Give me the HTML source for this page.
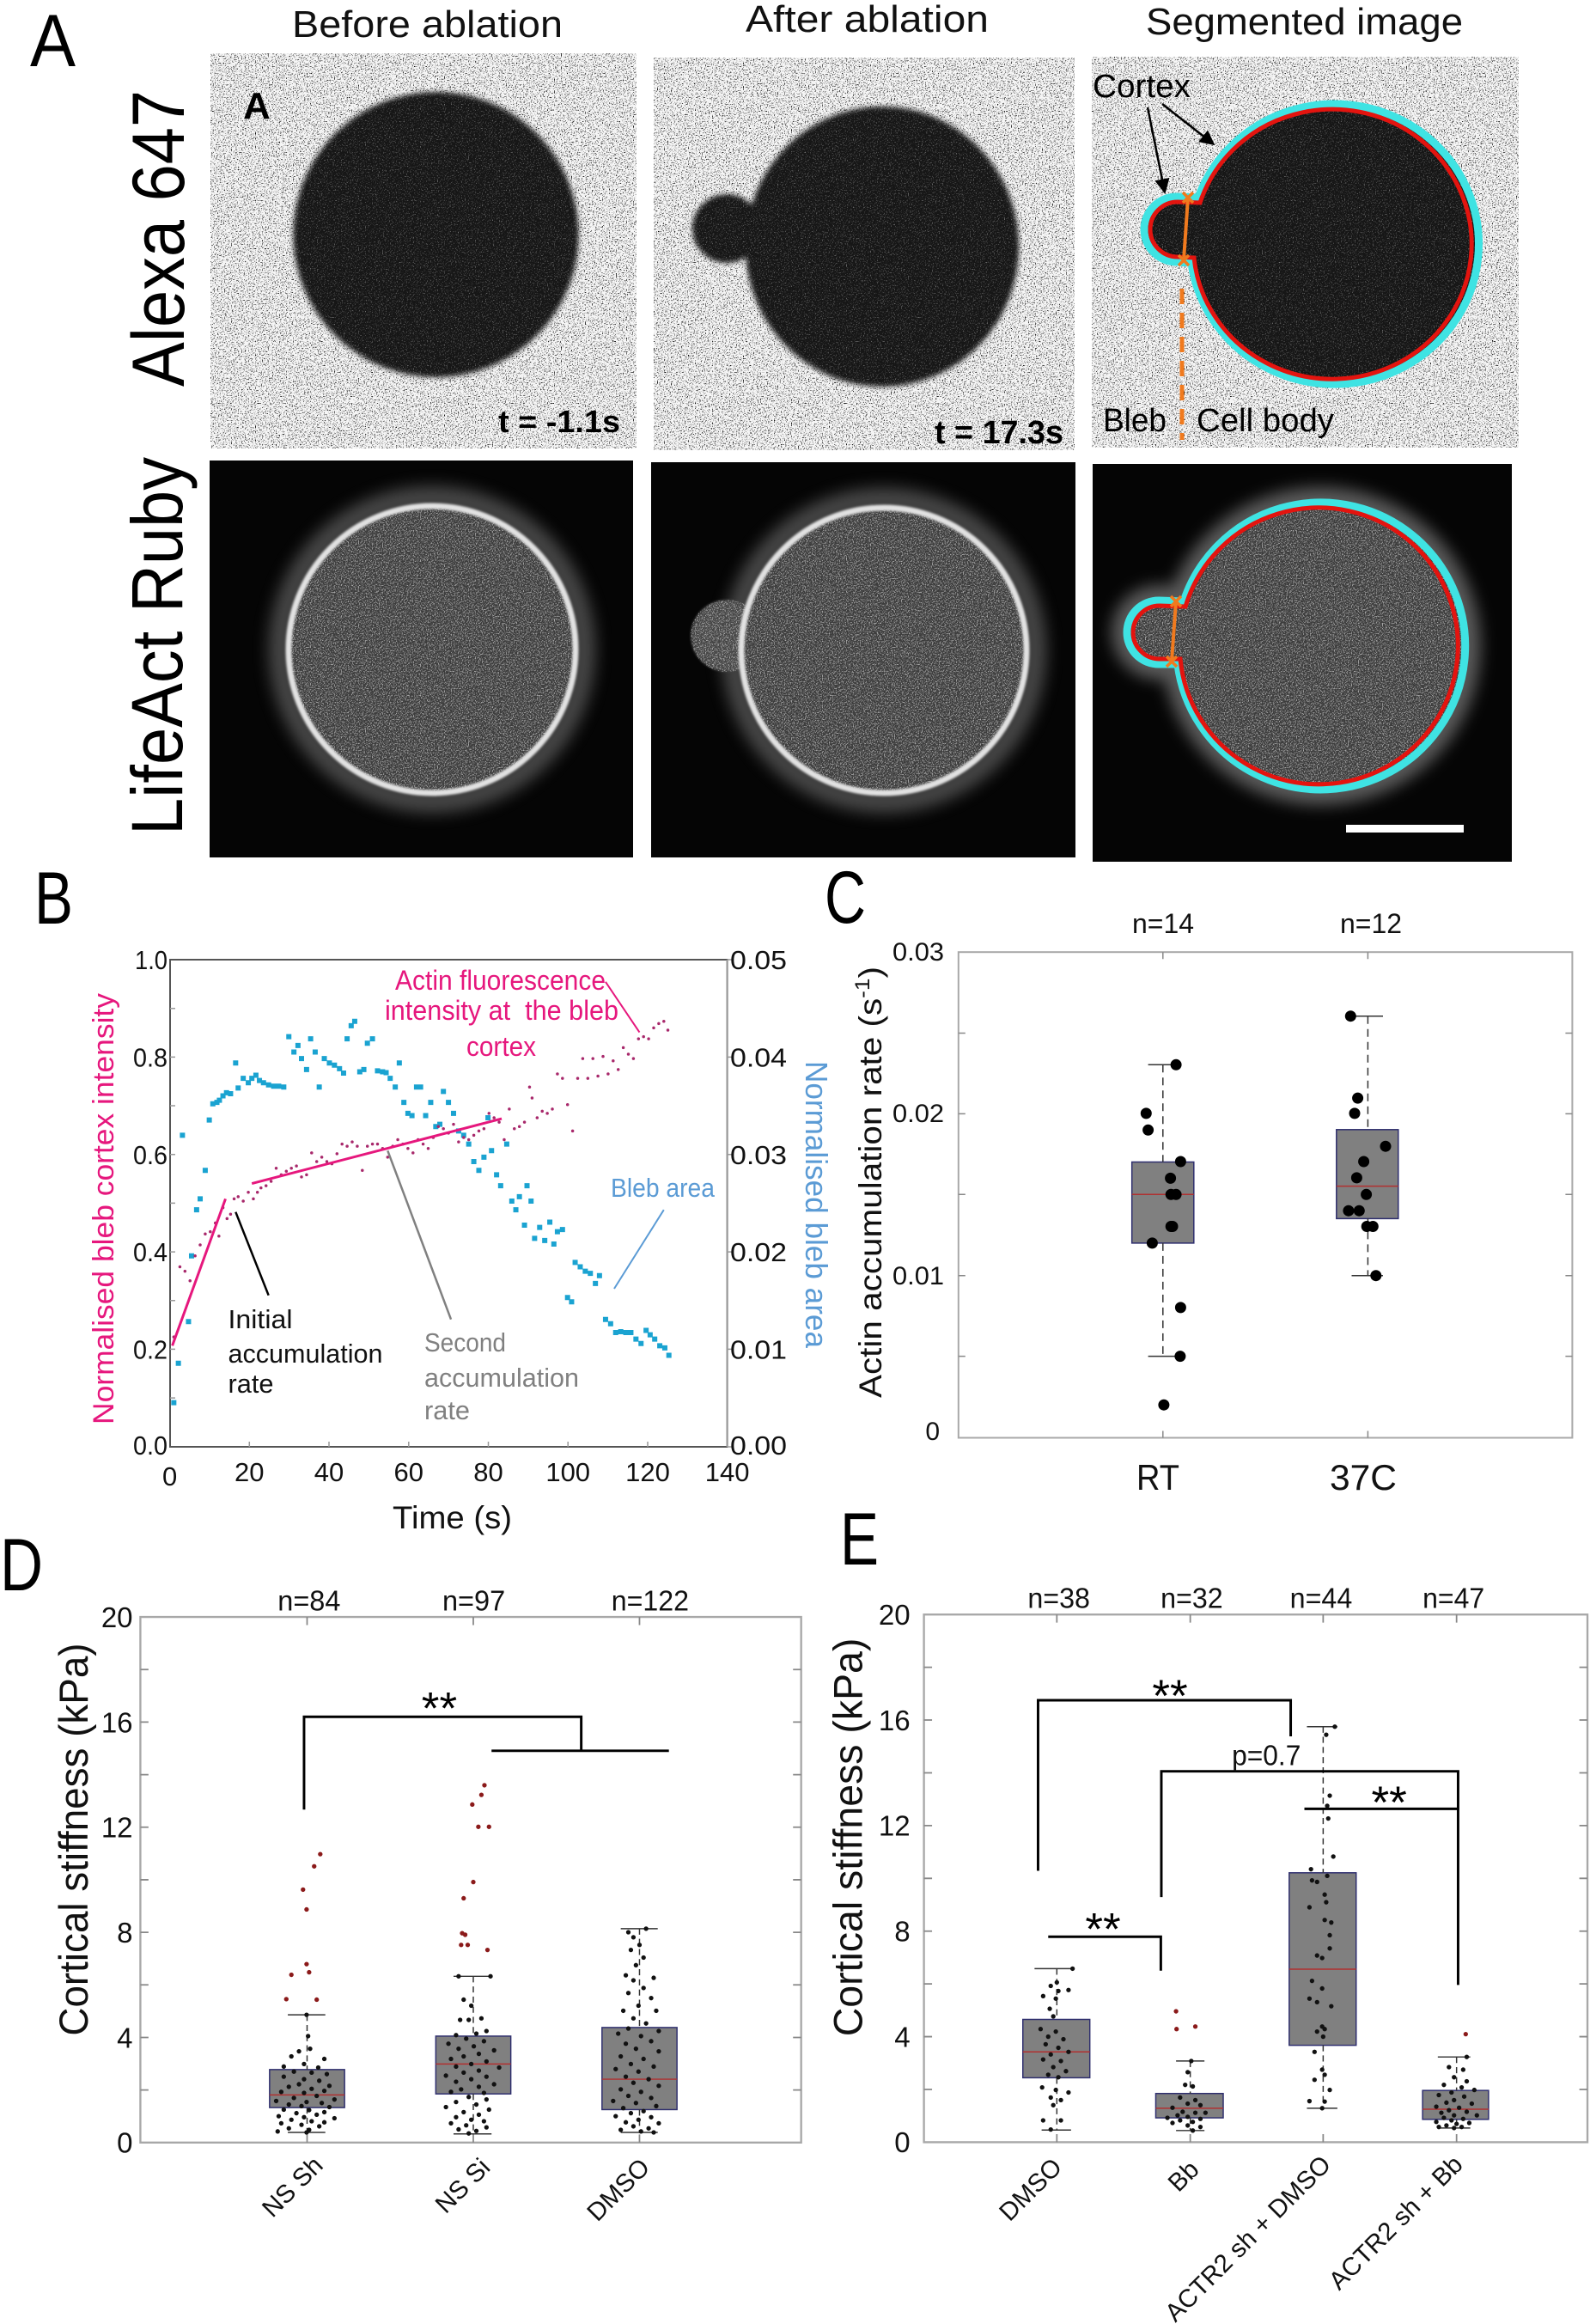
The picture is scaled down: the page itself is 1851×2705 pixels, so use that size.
<!DOCTYPE html>
<html><head><meta charset="utf-8"><style>html,body{margin:0;padding:0;background:#fff;}svg{display:block;}</style></head>
<body>
<svg xmlns="http://www.w3.org/2000/svg" width="1851" height="2705" viewBox="0 0 1851 2705" font-family="'Liberation Sans', Arial, sans-serif">
<defs>
<filter id="nb" x="0" y="0" width="100%" height="100%" color-interpolation-filters="sRGB"><feTurbulence type="fractalNoise" baseFrequency="0.75" numOctaves="2" seed="4"/><feColorMatrix type="matrix" values="0 0 0 0 0  0 0 0 0 0  0 0 0 0 0  -6 0 0 0 2.6"/></filter>
<filter id="nw" x="0" y="0" width="100%" height="100%" color-interpolation-filters="sRGB"><feTurbulence type="fractalNoise" baseFrequency="0.75" numOctaves="2" seed="9"/><feColorMatrix type="matrix" values="0 0 0 0 1  0 0 0 0 1  0 0 0 0 1  6 0 0 0 -3.5"/></filter>
<filter id="nw2" x="0" y="0" width="100%" height="100%" color-interpolation-filters="sRGB"><feTurbulence type="fractalNoise" baseFrequency="0.75" numOctaves="2" seed="9"/><feColorMatrix type="matrix" values="0 0 0 0 1  0 0 0 0 1  0 0 0 0 1  7 0 0 0 -3.6"/></filter>
<filter id="b1"><feGaussianBlur stdDeviation="1.2"/></filter>
<filter id="b3" x="-20%" y="-20%" width="140%" height="140%"><feGaussianBlur stdDeviation="3"/></filter>
<filter id="b9" x="-20%" y="-20%" width="140%" height="140%"><feGaussianBlur stdDeviation="9"/></filter>
<clipPath id="cTL"><circle cx="507.5" cy="273" r="166"/></clipPath>
<clipPath id="cTM"><ellipse cx="1027" cy="287" rx="159" ry="163"/><circle cx="846" cy="266" r="40"/></clipPath>
<clipPath id="cTR"><path d="M1395 230 A168 163 0 1 1 1387 306 L1370 305 A38 38 0 0 1 1370 229 Z"/></clipPath>
<clipPath id="cBL"><circle cx="503" cy="756" r="166"/></clipPath>
<clipPath id="cBM"><circle cx="1029" cy="757" r="165"/><circle cx="846" cy="740" r="42"/></clipPath>
<clipPath id="cBR"><path d="M1378 700 A168 167 0 1 1 1371 773 L1349 773 A37 37 0 0 1 1349 699 Z"/></clipPath>
<clipPath id="iBL"><rect x="244" y="536" width="493" height="462"/></clipPath>
<clipPath id="iBM"><rect x="758" y="538" width="494" height="460"/></clipPath>
<clipPath id="iBR"><rect x="1272" y="540" width="488" height="463"/></clipPath>
<marker id="ar" viewBox="0 0 10 10" refX="9" refY="5" markerWidth="7" markerHeight="7" orient="auto"><path d="M0 0L10 5L0 10z" fill="#000"/></marker>
</defs>

<!-- ================= PANEL A ================= -->
<text x="35" y="77" font-size="86" textLength="53" lengthAdjust="spacingAndGlyphs">A</text>
<text x="340" y="43" font-size="44" textLength="315" lengthAdjust="spacingAndGlyphs" fill="#111">Before ablation</text>
<text x="868" y="37" font-size="44" textLength="283" lengthAdjust="spacingAndGlyphs" fill="#111">After ablation</text>
<text x="1334" y="40" font-size="44" textLength="369" lengthAdjust="spacingAndGlyphs" fill="#111">Segmented image</text>
<text transform="translate(214,277.5) rotate(-90)" text-anchor="middle" font-size="86" textLength="345" lengthAdjust="spacingAndGlyphs" fill="#000">Alexa 647</text>
<text transform="translate(212,752) rotate(-90)" text-anchor="middle" font-size="84" textLength="440" lengthAdjust="spacingAndGlyphs" fill="#000">LifeAct Ruby</text>

<!-- top-left -->
<rect x="245" y="62" width="496" height="460" fill="#f6f6f6"/>
<rect x="245" y="62" width="496" height="460" filter="url(#nb)"/>
<circle cx="507.5" cy="273" r="166" fill="#161616" filter="url(#b3)"/>
<g clip-path="url(#cTL)"><rect x="330" y="100" width="360" height="350" filter="url(#nw)" opacity="0.4"/></g>
<text x="283" y="138" font-size="44" font-weight="bold" fill="#000">A</text>
<text x="580" y="503" font-size="36" font-weight="bold" textLength="142" lengthAdjust="spacingAndGlyphs" fill="#000">t = -1.1s</text>

<!-- top-middle -->
<rect x="761" y="67" width="490" height="457" fill="#f6f6f6"/>
<rect x="761" y="67" width="490" height="457" filter="url(#nb)"/>
<g filter="url(#b3)" fill="#161616"><ellipse cx="1027" cy="287" rx="159" ry="163"/><circle cx="846" cy="266" r="40"/></g>
<g clip-path="url(#cTM)"><rect x="790" y="115" width="400" height="345" filter="url(#nw)" opacity="0.4"/></g>
<text x="1088" y="516" font-size="38" font-weight="bold" textLength="150" lengthAdjust="spacingAndGlyphs" fill="#000">t = 17.3s</text>

<!-- top-right -->
<rect x="1271" y="66" width="497" height="455" fill="#f6f6f6"/>
<rect x="1271" y="66" width="497" height="455" filter="url(#nb)"/>
<path d="M1395 230 A168 163 0 1 1 1387 306 L1370 305 A38 38 0 0 1 1370 229 Z" fill="#161616"/>
<g clip-path="url(#cTR)"><rect x="1325" y="115" width="405" height="340" filter="url(#nw)" opacity="0.4"/></g>
<path d="M1395 230 A168 163 0 1 1 1387 306 L1370 305 A38 38 0 0 1 1370 229 Z" fill="none" stroke="#3fe3e3" stroke-width="9"/>
<path d="M1397 236 A162 157 0 1 1 1390 300 L1371 299 A32 32 0 0 1 1371 235 Z" fill="none" stroke="#e3140f" stroke-width="5"/>
<path d="M1383 230 L1378 303" stroke="#f07a1e" stroke-width="4"/>
<path d="M1377 224l12 12M1389 224l-12 12M1372 297l12 12M1384 297l-12 12" stroke="#f07a1e" stroke-width="3.5"/>
<path d="M1376 336 V512" stroke="#f07a1e" stroke-width="5" stroke-dasharray="18 10"/>
<path d="M1336 125 L1356 224" stroke="#000" stroke-width="2.5" marker-end="url(#ar)"/>
<path d="M1353 121 L1413 168" stroke="#000" stroke-width="2.5" marker-end="url(#ar)"/>
<text x="1272" y="113" font-size="38" textLength="114" lengthAdjust="spacingAndGlyphs" fill="#000">Cortex</text>
<text x="1284" y="502" font-size="38" textLength="74" lengthAdjust="spacingAndGlyphs" fill="#000">Bleb</text>
<text x="1393" y="502" font-size="38" textLength="160" lengthAdjust="spacingAndGlyphs" fill="#000">Cell body</text>

<!-- bottom-left -->
<rect x="244" y="536" width="493" height="462" fill="#050505"/>
<g clip-path="url(#iBL)">
<circle cx="503" cy="756" r="176" fill="none" stroke="#8a8a8a" stroke-width="28" opacity="0.5" filter="url(#b9)"/>
<circle cx="503" cy="756" r="166" fill="#3c3c3c"/>
<g clip-path="url(#cBL)"><rect x="330" y="585" width="350" height="345" filter="url(#nw2)" opacity="0.55"/></g>
<circle cx="503" cy="756" r="167" fill="none" stroke="#e2e2e2" stroke-width="7" filter="url(#b1)"/>
</g>

<!-- bottom-middle -->
<rect x="758" y="538" width="494" height="460" fill="#050505"/>
<g clip-path="url(#iBM)">
<circle cx="1029" cy="757" r="175" fill="none" stroke="#8a8a8a" stroke-width="28" opacity="0.5" filter="url(#b9)"/>
<g filter="url(#b1)"><circle cx="846" cy="740" r="42" fill="#444"/></g>
<circle cx="1029" cy="757" r="165" fill="#3c3c3c"/>
<g clip-path="url(#cBM)"><rect x="795" y="585" width="405" height="345" filter="url(#nw2)" opacity="0.55"/></g>
<circle cx="1029" cy="757" r="166" fill="none" stroke="#e2e2e2" stroke-width="7" filter="url(#b1)"/>
</g>

<!-- bottom-right -->
<rect x="1272" y="540" width="488" height="463" fill="#050505"/>
<g clip-path="url(#iBR)">
<path d="M1378 700 A168 167 0 1 1 1371 773 L1349 773 A37 37 0 0 1 1349 699 Z" fill="none" stroke="#a0a0a0" stroke-width="36" opacity="0.55" filter="url(#b9)"/>
<path d="M1378 700 A168 167 0 1 1 1371 773 L1349 773 A37 37 0 0 1 1349 699 Z" fill="#3c3c3c"/>
<g clip-path="url(#cBR)"><rect x="1305" y="580" width="410" height="345" filter="url(#nw2)" opacity="0.55"/></g>
<path d="M1378 700 A168 167 0 1 1 1371 773 L1349 773 A37 37 0 0 1 1349 699 Z" fill="none" stroke="#3fe3e3" stroke-width="9"/>
<path d="M1380 706 A162 161 0 1 1 1374 767 L1350 767 A31 31 0 0 1 1350 705 Z" fill="none" stroke="#e3140f" stroke-width="5"/>
<path d="M1369 700 L1364 770" stroke="#f07a1e" stroke-width="4"/>
<path d="M1363 694l12 12M1375 694l-12 12M1358 764l12 12M1370 764l-12 12" stroke="#f07a1e" stroke-width="3.5"/>
<rect x="1567" y="960" width="137" height="9" fill="#fff"/>
</g>

<!-- ================= PANEL B ================= -->
<text x="40" y="1075" font-size="86" textLength="45" lengthAdjust="spacingAndGlyphs">B</text>
<rect x="198" y="1117" width="648.6" height="567" fill="none" stroke="#555" stroke-width="2"/>
<path d="M846.6 1117 V1684" stroke="#999" stroke-width="2"/>
<path d="M198 1173.7h6M198 1230.4h6M198 1287h6M198 1343.7h6M198 1400.4h6M198 1457.1h6M198 1513.8h6M198 1570.4h6M198 1627.1h6" stroke="#999" stroke-width="1.5"/>
<path d="M846.6 1117h7M846.6 1230.4h7M846.6 1343.7h7M846.6 1457.1h7M846.6 1570.4h7M846.6 1684h7" stroke="#999" stroke-width="1.5"/>
<path d="M290.3 1684v-6M383 1684v-6M475.8 1684v-6M568.5 1684v-6M661.2 1684v-6M754 1684v-6" stroke="#999" stroke-width="1.5"/>
<g font-size="31" fill="#111" text-anchor="end">
<text x="195" y="1128" textLength="38" lengthAdjust="spacingAndGlyphs">1.0</text>
<text x="195" y="1241.5" textLength="40" lengthAdjust="spacingAndGlyphs">0.8</text>
<text x="195" y="1355" textLength="40" lengthAdjust="spacingAndGlyphs">0.6</text>
<text x="195" y="1468" textLength="40" lengthAdjust="spacingAndGlyphs">0.4</text>
<text x="195" y="1581.5" textLength="40" lengthAdjust="spacingAndGlyphs">0.2</text>
<text x="195" y="1693" textLength="40" lengthAdjust="spacingAndGlyphs">0.0</text>
</g>
<g font-size="31" fill="#111">
<text x="850" y="1128" textLength="66" lengthAdjust="spacingAndGlyphs">0.05</text>
<text x="850" y="1241.5" textLength="66" lengthAdjust="spacingAndGlyphs">0.04</text>
<text x="850" y="1355" textLength="66" lengthAdjust="spacingAndGlyphs">0.03</text>
<text x="850" y="1468" textLength="66" lengthAdjust="spacingAndGlyphs">0.02</text>
<text x="850" y="1581.5" textLength="66" lengthAdjust="spacingAndGlyphs">0.01</text>
<text x="850" y="1693" textLength="66" lengthAdjust="spacingAndGlyphs">0.00</text>
</g>
<g font-size="31" fill="#111" text-anchor="middle">
<text x="197.6" y="1729">0</text>
<text x="290.3" y="1724">20</text>
<text x="383" y="1724">40</text>
<text x="475.8" y="1724">60</text>
<text x="568.5" y="1724">80</text>
<text x="661.2" y="1724">100</text>
<text x="754" y="1724">120</text>
<text x="846.6" y="1724">140</text>
</g>
<text x="457" y="1779" font-size="37" textLength="139" lengthAdjust="spacingAndGlyphs" fill="#111">Time (s)</text>
<text transform="translate(132,1407) rotate(-90)" text-anchor="middle" font-size="34" textLength="502" lengthAdjust="spacingAndGlyphs" fill="#e6177d">Normalised bleb cortex intensity</text>
<text transform="translate(938,1402) rotate(90)" text-anchor="middle" font-size="36" textLength="334" lengthAdjust="spacingAndGlyphs" fill="#5b9bd5">Normalised bleb area</text>

<g transform="translate(0,1000) scale(0.58992,0.5102)">
<path vector-effect="non-scaling-stroke" stroke="#1aa3d1" stroke-width="6" stroke-linecap="square" fill="none" d="M343 1240h0M352 1150h0M360 630h0M372 1055h0M378 905h0M388 800h0M395 775h0M405 710h0M413 595h0M420 558h0M428 555h0M433 550h0M440 540h0M447 533h0M455 535h0M465 465h0M470 522h0M480 500h0M490 510h0M497 500h0M505 493h0M512 505h0M520 510h0M530 515h0M540 518h0M550 518h0M560 520h0M570 405h0M580 440h0M588 425h0M595 455h0M605 480h0M613 410h0M622 440h0M630 520h0M640 455h0M650 465h0M660 470h0M670 478h0M678 488h0M685 410h0M693 380h0M700 370h0M710 485h0M718 480h0M725 420h0M735 410h0M745 483h0M755 485h0M762 487h0M770 500h0M780 520h0M788 465h0M797 555h0M805 580h0M813 585h0M822 520h0M830 520h0M840 585h0M850 555h0M860 610h0M868 605h0M875 530h0M885 555h0M895 580h0M905 620h0M915 630h0M925 650h0M935 690h0M945 710h0M955 680h0M963 590h0M970 665h0M980 720h0M988 745h0M1000 650h0M1010 780h0M1018 800h0M1025 770h0M1035 835h0M1040 745h0M1048 780h0M1055 865h0M1065 840h0M1075 870h0M1085 828h0M1093 878h0M1100 850h0M1110 845h0M1120 1000h0M1128 1010h0M1135 920h0M1145 930h0M1155 940h0M1165 945h0M1175 968h0M1183 950h0M1195 1050h0M1205 1060h0M1215 1080h0M1225 1078h0M1235 1080h0M1245 1080h0M1255 1095h0M1265 1105h0M1275 1075h0M1283 1085h0M1292 1095h0M1302 1110h0M1312 1115h0M1320 1132h0"/>
<path vector-effect="non-scaling-stroke" stroke="#a8286b" stroke-width="3.5" stroke-linecap="round" fill="none" d="M343 1090h0M355 930h0M365 940h0M375 962h0M385 905h0M395 880h0M405 855h0M415 850h0M425 830h0M432 860h0M440 795h0M448 820h0M455 810h0M462 775h0M470 770h0M480 780h0M490 760h0M500 775h0M508 760h0M515 750h0M525 745h0M535 735h0M545 705h0M555 720h0M565 712h0M575 705h0M585 700h0M595 725h0M605 720h0M615 670h0M625 690h0M635 680h0M645 690h0M655 695h0M665 672h0M675 650h0M685 655h0M695 645h0M705 655h0M715 710h0M725 655h0M735 650h0M745 650h0M755 660h0M765 680h0M775 655h0M785 640h0M795 650h0M805 660h0M815 670h0M825 640h0M835 650h0M845 660h0M855 635h0M865 610h0M875 615h0M885 625h0M895 605h0M905 645h0M915 635h0M925 640h0M935 630h0M945 620h0M955 615h0M965 580h0M975 590h0M985 600h0M995 640h0M1005 570h0M1015 615h0M1025 610h0M1035 600h0M1045 520h0M1050 545h0M1060 590h0M1070 575h0M1080 580h0M1090 570h0M1100 490h0M1110 500h0M1120 560h0M1130 620h0M1140 500h0M1150 455h0M1160 500h0M1170 455h0M1180 495h0M1190 450h0M1200 490h0M1210 460h0M1220 480h0M1230 430h0M1240 445h0M1250 455h0M1260 410h0M1270 405h0M1280 410h0M1290 385h0M1300 375h0M1310 370h0M1318 390h0"/>
<path vector-effect="non-scaling-stroke" d="M340 1110L445 775M497 740L990 592" stroke="#e6177d" stroke-width="3" fill="none"/>
<path vector-effect="non-scaling-stroke" d="M1195 280L1262 395" stroke="#e6177d" stroke-width="2" fill="none"/>
<path vector-effect="non-scaling-stroke" d="M1310 800L1212 980" stroke="#5b9bd5" stroke-width="2" fill="none"/>
<path vector-effect="non-scaling-stroke" d="M465 805L530 995" stroke="#000" stroke-width="2.5" fill="none"/>
<path vector-effect="non-scaling-stroke" d="M765 665L890 1050" stroke="#808080" stroke-width="2.5" fill="none"/>
</g>
<g font-size="32" fill="#e6177d">
<text x="460" y="1152" textLength="245" lengthAdjust="spacingAndGlyphs">Actin fluorescence</text>
<text x="448" y="1187" textLength="272" lengthAdjust="spacingAndGlyphs" xml:space="preserve">intensity at  the bleb</text>
<text x="543" y="1229" textLength="81" lengthAdjust="spacingAndGlyphs">cortex</text>
</g>
<text x="711" y="1393" font-size="31" textLength="121" lengthAdjust="spacingAndGlyphs" fill="#5b9bd5">Bleb area</text>
<g font-size="31" fill="#111">
<text x="265.5" y="1546" textLength="75" lengthAdjust="spacingAndGlyphs">Initial</text>
<text x="265.5" y="1586" textLength="180" lengthAdjust="spacingAndGlyphs">accumulation</text>
<text x="265.5" y="1621" textLength="53" lengthAdjust="spacingAndGlyphs">rate</text>
</g>
<g font-size="31" fill="#808080">
<text x="494" y="1573" textLength="95" lengthAdjust="spacingAndGlyphs">Second</text>
<text x="494" y="1614" textLength="180" lengthAdjust="spacingAndGlyphs">accumulation</text>
<text x="494" y="1652" textLength="53" lengthAdjust="spacingAndGlyphs">rate</text>
</g>

<!-- ================= PANEL C ================= -->
<text x="960" y="1074" font-size="86" textLength="48" lengthAdjust="spacingAndGlyphs">C</text>
<rect x="1115.8" y="1108.2" width="714.6" height="565.3" fill="none" stroke="#a8a8a8" stroke-width="2"/>
<path d="M1115.8 1202.5h8M1115.8 1296.4h8M1115.8 1390.3h8M1115.8 1484.7h8M1115.8 1578.6h8M1830.4 1202.5h-8M1830.4 1296.4h-8M1830.4 1390.3h-8M1830.4 1484.7h-8M1830.4 1578.6h-8M1353.8 1673.5v-8M1592.4 1673.5v-8M1353.8 1108.2v8M1592.4 1108.2v8" stroke="#888" stroke-width="1.5"/>
<g font-size="30" fill="#111" text-anchor="end">
<text x="1099" y="1118" textLength="60" lengthAdjust="spacingAndGlyphs">0.03</text>
<text x="1099" y="1306" textLength="60" lengthAdjust="spacingAndGlyphs">0.02</text>
<text x="1099" y="1495" textLength="60" lengthAdjust="spacingAndGlyphs">0.01</text>
<text x="1094" y="1676">0</text>
</g>
<g font-size="32" fill="#111" text-anchor="middle">
<text x="1354" y="1086" textLength="72" lengthAdjust="spacingAndGlyphs">n=14</text>
<text x="1596" y="1086" textLength="72" lengthAdjust="spacingAndGlyphs">n=12</text>
</g>
<g font-size="42" fill="#111" text-anchor="middle">
<text x="1348" y="1734" textLength="50" lengthAdjust="spacingAndGlyphs">RT</text>
<text x="1587" y="1734" textLength="78" lengthAdjust="spacingAndGlyphs">37C</text>
</g>
<text transform="translate(1026,1376) rotate(-90)" text-anchor="middle" font-size="37" textLength="502" lengthAdjust="spacingAndGlyphs" fill="#111">Actin accumulation rate (s<tspan font-size="24" dy="-14">-1</tspan><tspan dy="14">)</tspan></text>
<rect x="1317.7" y="1352.5" width="72.1" height="94.4" fill="#808080" stroke="#2e2e6e" stroke-width="1.5"/>
<path d="M1317.7 1390.3H1389.8" stroke="#b03030" stroke-width="1.5"/>
<rect x="1555.8" y="1314.8" width="72" height="103.6" fill="#808080" stroke="#2e2e6e" stroke-width="1.5"/>
<path d="M1555.8 1380.6H1627.8" stroke="#b03030" stroke-width="1.5"/>
<path d="M1353.8 1239.3V1352.5M1353.8 1446.9V1578.6M1592.4 1182.7V1314.8M1592.4 1418.4V1484.7" stroke="#333" stroke-width="1.5" stroke-dasharray="9 6"/>
<path d="M1336.6 1239.3H1370.9M1336.6 1578.6H1370.9M1573.5 1182.7H1610M1573.5 1484.7H1610" stroke="#333" stroke-width="1.5"/>
<path stroke="#000" stroke-width="13" stroke-linecap="round" fill="none" d="M1369.1 1239.3h0M1334.3 1295.9h0M1336.6 1315.3h0M1374.4 1352h0M1362.6 1371.4h0M1363.2 1390.3h0M1369.1 1390.3h0M1363.2 1427.5h0M1365 1427.5h0M1341.4 1446.9h0M1374.4 1521.9h0M1373.9 1578.6h0M1354.9 1635.2h0M1572.3 1182.7h0M1580.6 1278.1h0M1577 1295.9h0M1613 1334.2h0M1587.6 1352h0M1579.4 1370.9h0M1590.6 1390.3h0M1569.9 1409.2h0M1582.3 1409.2h0M1591.2 1427.5h0M1598.3 1427.5h0M1601.8 1484.7h0"/>

<!-- ================= PANEL D ================= -->
<text x="0" y="1851" font-size="86" textLength="50" lengthAdjust="spacingAndGlyphs">D</text>
<g transform="translate(0,1780) scale(0.58992)">
<rect x="277" y="173" width="1304" height="1037" fill="none" stroke="#a8a8a8" stroke-width="4"/>
<path d="M277 276.7h16M277 380.4h16M277 484.1h16M277 587.8h16M277 691.5h16M277 795.2h16M277 898.9h16M277 1002.6h16M277 1106.3h16M1581 276.7h-16M1581 380.4h-16M1581 484.1h-16M1581 587.8h-16M1581 691.5h-16M1581 795.2h-16M1581 898.9h-16M1581 1002.6h-16M1581 1106.3h-16M606 173v16M934 173v16M1262 173v16M606 1210v-16M934 1210v-16M1262 1210v-16" stroke="#888" stroke-width="3"/>
<g font-size="56" fill="#111" text-anchor="end">
<text x="262" y="193">20</text><text x="262" y="401">16</text><text x="262" y="608">12</text><text x="262" y="815">8</text><text x="262" y="1023">4</text><text x="262" y="1230">0</text>
</g>
<g font-size="56" fill="#111" text-anchor="middle">
<text x="610" y="160" textLength="124" lengthAdjust="spacingAndGlyphs">n=84</text>
<text x="935" y="160" textLength="124" lengthAdjust="spacingAndGlyphs">n=97</text>
<text x="1283" y="160" textLength="153" lengthAdjust="spacingAndGlyphs">n=122</text>
</g>
<text transform="translate(173,612) rotate(-90)" text-anchor="middle" font-size="80" textLength="775" lengthAdjust="spacingAndGlyphs" fill="#111">Cortical stiffness (kPa)</text>
<g font-size="50" fill="#111" text-anchor="end">
<text transform="translate(640,1258) rotate(-45)">NS Sh</text>
<text transform="translate(970,1262) rotate(-45)">NS Si</text>
<text transform="translate(1285,1262) rotate(-45)">DMSO</text>
</g>
<g fill="#808080" stroke="#2e2e6e" stroke-width="2.5">
<rect x="532" y="1066" width="148" height="75"/><rect x="860" y="1000" width="148" height="114"/><rect x="1188" y="983" width="148" height="162"/>
</g>
<path d="M532 1116H680M860 1055H1008M1188 1085H1336" stroke="#b03030" stroke-width="2.5"/>
<path d="M606 958V1066M606 1141V1190M934 882V1000M934 1114V1193M1262 788V983M1262 1145V1190" stroke="#333" stroke-width="2.5" stroke-dasharray="12 8"/>
<path d="M568 958H642M568 1190H642M895 882H970M895 1193H970M1225 788H1298M1225 1190H1298" stroke="#333" stroke-width="2.5"/>
<path d="M600 553V370H1147V437M970 437H1320" stroke="#000" stroke-width="5" fill="none"/>
<text x="867" y="384" font-size="90" text-anchor="middle" fill="#000">**</text>
<path stroke="#8b1a1a" stroke-width="9" stroke-linecap="round" fill="none" d="M632 641h0M620 665h0M598 711h0M605 750h0M575 879h0M610 874h0M605 858h0M565 927h0M625 928h0M956 505h0M950 524h0M932 543h0M944 587h0M965 587h0M934 696h0M915 728h0M912 797h0M918 800h0M910 820h0M923 820h0M962 830h0"/>
<path stroke="#111" stroke-width="9" stroke-linecap="round" fill="none" d="M605 958h0M608 1000h0M590 1030h0M612 1025h0M575 1040h0M640 1045h0M600 1055h0M628 1062h0M560 1060h0M580 1070h0M615 1072h0M645 1075h0M560 1080h0M600 1085h0M630 1088h0M590 1095h0M650 1098h0M570 1100h0M615 1104h0M640 1108h0M555 1110h0M600 1112h0M625 1118h0M580 1122h0M660 1125h0M545 1128h0M605 1130h0M635 1132h0M570 1135h0M595 1138h0M650 1140h0M560 1145h0M610 1146h0M640 1150h0M585 1152h0M625 1155h0M550 1158h0M600 1160h0M660 1162h0M575 1165h0M615 1168h0M640 1170h0M555 1172h0M595 1175h0M630 1178h0M570 1182h0M610 1185h0M548 1188h0M605 1190h0M905 882h0M968 882h0M915 928h0M930 940h0M950 965h0M908 968h0M925 968h0M960 990h0M940 995h0M900 998h0M920 1005h0M955 1010h0M885 1015h0M935 1020h0M905 1025h0M975 1028h0M945 1035h0M915 1040h0M890 1045h0M960 1050h0M930 1055h0M900 1060h0M985 1062h0M945 1068h0M915 1072h0M880 1078h0M960 1080h0M930 1085h0M900 1090h0M975 1095h0M945 1100h0M910 1105h0M890 1110h0M955 1112h0M925 1120h0M960 1125h0M900 1130h0M940 1135h0M880 1140h0M965 1145h0M915 1150h0M945 1155h0M900 1160h0M930 1165h0M955 1168h0M890 1172h0M920 1176h0M960 1180h0M905 1184h0M940 1187h0M925 1192h0M1275 788h0M1240 795h0M1250 805h0M1262 820h0M1245 830h0M1270 845h0M1255 860h0M1235 880h0M1290 885h0M1250 890h0M1270 905h0M1240 915h0M1285 925h0M1260 940h0M1230 950h0M1295 950h0M1250 965h0M1275 975h0M1240 985h0M1300 990h0M1220 995h0M1265 1000h0M1285 1010h0M1235 1015h0M1255 1025h0M1300 1030h0M1225 1040h0M1270 1045h0M1245 1055h0M1290 1060h0M1215 1065h0M1260 1070h0M1235 1080h0M1280 1085h0M1250 1092h0M1300 1098h0M1225 1105h0M1265 1110h0M1240 1118h0M1285 1122h0M1210 1128h0M1255 1132h0M1295 1138h0M1230 1142h0M1270 1148h0M1245 1152h0M1215 1158h0M1285 1160h0M1260 1165h0M1235 1170h0M1300 1172h0M1250 1178h0M1280 1182h0M1225 1185h0M1265 1188h0M1290 1190h0"/>
</g>

<!-- ================= PANEL E ================= -->
<text x="978" y="1821" font-size="86" textLength="45" lengthAdjust="spacingAndGlyphs">E</text>
<g transform="translate(925,1780) scale(0.59056)">
<rect x="255" y="168" width="1308" height="1040" fill="none" stroke="#a8a8a8" stroke-width="4"/>
<path d="M255 272h16M255 376h16M255 480h16M255 584h16M255 688h16M255 792h16M255 896h16M255 1000h16M255 1104h16M1563 272h-16M1563 376h-16M1563 480h-16M1563 584h-16M1563 688h-16M1563 792h-16M1563 896h-16M1563 1000h-16M1563 1104h-16M517 168v16M780 168v16M1042 168v16M1305 168v16M517 1208v-16M780 1208v-16M1042 1208v-16M1305 1208v-16" stroke="#888" stroke-width="3"/>
<g font-size="56" fill="#111" text-anchor="end">
<text x="228" y="188">20</text><text x="228" y="396">16</text><text x="228" y="604">12</text><text x="228" y="812">8</text><text x="228" y="1020">4</text><text x="228" y="1228">0</text>
</g>
<g font-size="56" fill="#111" text-anchor="middle">
<text x="521" y="155" textLength="123" lengthAdjust="spacingAndGlyphs">n=38</text>
<text x="783" y="155" textLength="123" lengthAdjust="spacingAndGlyphs">n=32</text>
<text x="1038" y="155" textLength="123" lengthAdjust="spacingAndGlyphs">n=44</text>
<text x="1299" y="155" textLength="122" lengthAdjust="spacingAndGlyphs">n=47</text>
</g>
<text transform="translate(133,607) rotate(-90)" text-anchor="middle" font-size="80" textLength="785" lengthAdjust="spacingAndGlyphs" fill="#111">Cortical stiffness (kPa)</text>
<g font-size="50" fill="#111" text-anchor="end">
<text transform="translate(530,1260) rotate(-45)">DMSO</text>
<text transform="translate(800,1265) rotate(-45)">Bb</text>
<text transform="translate(1060,1255) rotate(-45)">ACTR2 sh + DMSO</text>
<text transform="translate(1320,1255) rotate(-45)">ACTR2 sh + Bb</text>
</g>
<g fill="#808080" stroke="#2e2e6e" stroke-width="2.5">
<rect x="450" y="966" width="132" height="115"/><rect x="712" y="1112" width="133" height="48"/><rect x="975" y="677" width="132" height="340"/><rect x="1238" y="1106" width="130" height="57"/>
</g>
<path d="M450 1030H582M712 1141H845M975 867H1107M1238 1143H1368" stroke="#b03030" stroke-width="2.5"/>
<path d="M517 866V966M517 1081V1184M780 1048V1112M780 1160V1185M1042 389V677M1042 1017V1141M1305 1040V1106M1305 1163V1180" stroke="#333" stroke-width="2.5" stroke-dasharray="12 8"/>
<path d="M473 866H548M487 1184H545M752 1048H808M752 1185H808M1010 389H1070M1010 1141H1070M1268 1040H1332M1268 1180H1332" stroke="#333" stroke-width="2.5"/>
<path d="M480 673V337H978V408M723 725V477H1308V898M1005 551H1308M500 803H722V870" stroke="#000" stroke-width="5" fill="none"/>
<g font-size="90" text-anchor="middle" fill="#000">
<text x="740" y="359">**</text><text x="1172" y="569">**</text><text x="608" y="819">**</text>
</g>
<text x="862" y="465" font-size="56" fill="#111" textLength="136" lengthAdjust="spacingAndGlyphs">p=0.7</text>
<path stroke="#8b1a1a" stroke-width="9" stroke-linecap="round" fill="none" d="M752 950h0M753 985h0M790 980h0M1323 995h0"/>
<path stroke="#111" stroke-width="9" stroke-linecap="round" fill="none" d="M548 866h0M517 893h0M505 900h0M520 910h0M540 908h0M490 920h0M515 925h0M503 945h0M510 960h0M485 985h0M515 990h0M500 1000h0M530 1005h0M495 1015h0M520 1022h0M540 1030h0M505 1035h0M490 1045h0M525 1048h0M510 1060h0M535 1068h0M500 1075h0M520 1080h0M488 1100h0M515 1105h0M540 1110h0M505 1120h0M525 1125h0M510 1135h0M490 1165h0M525 1165h0M505 1183h0M782 1048h0M775 1070h0M770 1095h0M785 1098h0M760 1120h0M790 1125h0M775 1132h0M800 1135h0M745 1140h0M765 1148h0M790 1150h0M810 1150h0M755 1155h0M775 1158h0M735 1160h0M800 1162h0M760 1165h0M785 1168h0M745 1170h0M775 1175h0M800 1178h0M785 1185h0M1065 389h0M1048 405h0M1055 525h0M1050 545h0M1052 570h0M1062 645h0M1018 670h0M1050 683h0M1020 692h0M1030 695h0M1045 720h0M1048 735h0M1015 745h0M1045 770h0M1058 775h0M1055 800h0M1030 840h0M1040 845h0M1055 826h0M1020 890h0M1040 905h0M1015 925h0M1030 932h0M1058 940h0M1040 980h0M1045 985h0M1030 990h0M1042 1000h0M1025 1030h0M1040 1065h0M1045 1075h0M1025 1085h0M1015 1127h0M1045 1128h0M1040 1141h0M1055 1105h0M1325 1040h0M1290 1060h0M1318 1065h0M1300 1080h0M1325 1088h0M1280 1095h0M1315 1100h0M1340 1105h0M1295 1110h0M1270 1115h0M1320 1118h0M1300 1125h0M1285 1130h0M1335 1132h0M1265 1138h0M1310 1140h0M1290 1145h0M1325 1148h0M1275 1150h0M1300 1155h0M1345 1155h0M1280 1160h0M1318 1162h0M1295 1165h0M1265 1168h0M1330 1170h0M1305 1172h0M1285 1175h0M1315 1178h0M1270 1178h0M1300 1180h0"/>
</g>
</svg>
</body></html>
